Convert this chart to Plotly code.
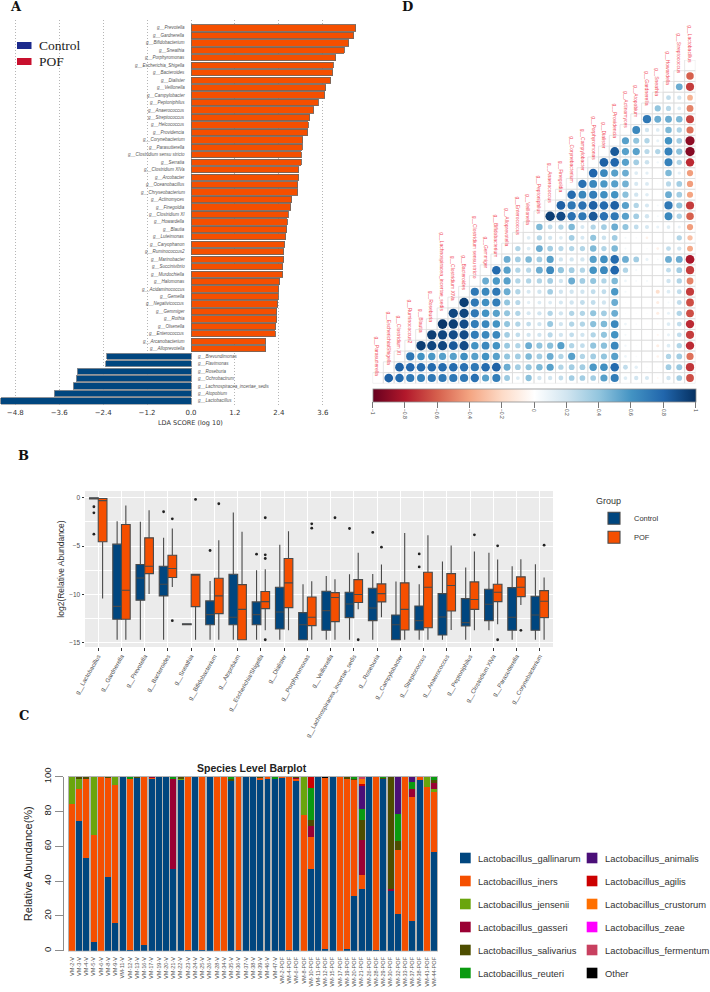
import numpy as np
import plotly.graph_objects as go

W, H = 710, 992
def dx(a, b): return [a / W, b / W]
def dy(top, bottom): return [1 - bottom / H, 1 - top / H]

BLUE = "#00467f"
ORANGE = "#f54f00"

# ---------- Panel A ----------
lda_pof_names = ["g__Prevotella","g__Gardnerella","g__Bifidobacterium","g__Sneathia","g__Porphyromonas",
    "g__Escherichia_Shigella","g__Bacteroides","g__Dialister","g__Veillonella","g__Campylobacter",
    "g__Peptoniphilus","g__Anaerococcus","g__Streptococcus","g__Helcococcus","g__Providencia",
    "g__Corynebacterium","g__Parasutterella","g__Clostridium sensu stricto","g__Serratia","g__Clostridium XlVa",
    "g__Arcobacter","g__Oceanobacillus","g__Chryseobacterium","g__Actinomyces","g__Finegoldia",
    "g__Clostridium XI","g__Howardella","g__Blautia","g__Luteimonas","g__Caryophanon",
    "g__Ruminococcus2","g__Marinobacter","g__Succinivibrio","g__Murdochiella","g__Halomonas",
    "g__Acidaminococcus","g__Gemella","g__Negativicoccus","g__Gemmiger","g__Rothia",
    "g__Olsenella","g__Enterococcus","g__Arcanobacterium","g__Alloprevotella"]
lda_pof_values = [4.50,4.45,4.31,4.19,3.95,3.88,3.87,3.82,3.68,3.66,3.47,3.35,3.24,3.21,3.19,3.05,3.04,3.01,3.01,
    2.95,2.94,2.91,2.91,2.75,2.73,2.66,2.63,2.62,2.59,2.56,2.53,2.53,2.51,2.50,2.42,2.40,2.39,2.37,2.34,2.34,
    2.32,2.30,2.04,2.04]
lda_ctrl_names = ["g__Brevundimonas","g__Flavimonas","g__Roseburia","g__Ochrobactrum",
    "g__Lachnospiracea_incertae_sedis","g__Atopobium","g__Lactobacillus"]
lda_ctrl_values = [-2.30,-2.33,-3.11,-3.14,-3.22,-3.74,-5.20]
lda_ticks = [-4.8,-3.6,-2.4,-1.2,0,1.2,2.4,3.6]

# ---------- Panel B ----------
box_genera = ["g__Lactobacillus","g__Gardnerella","g__Prevotella","g__Bacteroides","g__Sneathia","g__Bifidobacterium",
    "g__Atopobium","g__Escherichia/Shigella","g__Dialister","g__Porphyromonas","g__Veillonella",
    "g__Lachnospiracea_incertae_sedis","g__Roseburia","g__Campylobacter","g__Streptococcus","g__Anaerococcus",
    "g__Peptoniphilus","g__Clostridium XlVa","g__Parasutterella","g__Corynebacterium"]
ctrl_q1 = [-0.12,-12.58,-10.6,-10.16,-13.15,-13.14,-13.14,-13.14,-13.58,-14.7,-13.72,-12.41,-12.72,-14.7,-13.69,-14.21,-13.27,-12.72,-13.72,-13.72]
ctrl_med = [-0.05,-11.24,-8.3,-8.95,-13.1,-12.1,-12.37,-12.1,-11.82,-13.14,-11.68,-11.0,-11.41,-13.14,-12.72,-12.34,-12.93,-11.03,-12.37,-12.13]
ctrl_q3 = [0.0,-4.8,-6.91,-7.09,-13.05,-10.68,-7.92,-10.78,-9.26,-11.89,-9.68,-9.78,-9.37,-12.13,-11.2,-9.92,-10.44,-9.47,-9.3,-10.2]
ctrl_lo = [-0.12,-14.7,-14.7,-14.7,-13.15,-14.7,-14.7,-14.7,-14.7,-14.7,-14.7,-14.7,-14.7,-14.7,-14.7,-14.7,-14.7,-13.72,-14.7,-14.7]
ctrl_hi = [0.0,-2.42,-2.49,-4.15,-13.05,-8.61,-1.52,-7.5,-4.87,-8.95,-8.09,-7.92,-7.88,-8.68,-8.95,-6.6,-7.22,-5.7,-7.09,-6.88]
ctrl_out = [[-0.93,-1.56,-3.77],[],[],[-1.45],[],[-5.46],[],[-5.84],[],[],[],[-3.18],[-3.59],[],[-5.81,-7.16],[],[],[],[],[]]
pof_q1 = [-4.56,-12.58,-7.85,-8.26,-11.27,-12.0,-14.7,-11.48,-11.37,-13.24,-12.82,-10.85,-10.78,-13.69,-13.45,-11.72,-11.55,-10.75,-10.23,-12.41]
pof_med = [-0.3,-9.58,-7.09,-7.33,-8.02,-10.16,-11.55,-10.75,-8.81,-12.37,-10.33,-10.02,-9.92,-11.55,-9.26,-9.09,-10.54,-9.78,-9.26,-10.72]
pof_q3 = [-0.07,-2.77,-4.15,-5.95,-7.92,-8.33,-8.99,-9.71,-6.29,-10.27,-9.82,-8.47,-8.92,-8.81,-7.71,-7.85,-8.71,-8.95,-8.19,-9.61]
pof_lo = [-10.44,-14.7,-9.96,-9.23,-14.7,-14.7,-14.7,-13.72,-13.72,-14.7,-14.7,-11.55,-12.37,-14.7,-14.7,-13.69,-13.72,-13.1,-11.1,-14.7]
pof_hi = [-0.07,-0.8,-1.28,-3.18,-7.92,-4.39,-3.53,-7.4,-3.46,-8.64,-8.43,-5.7,-6.91,-3.66,-3.87,-4.94,-5.57,-6.39,-6.36,-8.26]
pof_out = [[],[],[],[-2.18,-12.72],[-0.17],[-0.62],[],[-2.07,-5.91,-6.29,-14.7],[],[-2.7,-3.15],[-2.07],[-14.7],[-5.12],[],[],[],[-3.84],[-4.98,-14.7],[-13.72],[-4.91]]

# ---------- Panel C ----------
samples = ["VM-2-V","VM-3-V","VM-4-V","VM-5-V","VM-6-V","VM-8-V","VM-9-V","VM-11-V","VM-12-V","VM-13-V","VM-16-V",
    "VM-17-V","VM-19-V","VM-20-V","VM-21-V","VM-22-V","VM-23-V","VM-24-V","VM-25-V","VM-26-V","VM-28-V","VM-34-V",
    "VM-35-V","VM-36-V","VM-37-V","VM-38-V","VM-39-V","VM-46-V","VM-47-V",
    "VM-2-POF","VM-4-POF","VM-6-POF","VM-8-POF","VM-10-POF","VM-11-POF","VM-12-POF","VM-15-POF","VM-17-POF",
    "VM-19-POF","VM-20-POF","VM-21-POF","VM-26-POF","VM-28-POF","VM-29-POF","VM-30-POF","VM-32-POF","VM-33-POF",
    "VM-37-POF","VM-38-POF","VM-41-POF","VM-44-POF"]
gallinarum = [0,74.5,53.5,5,0,42.5,16,100,0.3,99.5,3,99,100,100,47,98.5,0.3,100,0.3,100,0,0,98,0.3,100,
    100,98.5,99,98.5,
    99.5,0.3,98,0,46.7,100,1,100,0,1,31.4,35.2,100,0.3,99,34.5,21,0,16.8,98,0,57]
iners = [84.5,18.5,45.5,61.7,100,57,79,0,98.2,0,97,0.5,0,0,0,0,99.7,0,99.7,0,100,100,0,99.7,0,
    0,1,1,0,
    0.5,99.7,1,78,18.8,0,98.5,0,100,98,67.3,8.1,0,99.7,0,0,36.8,100,71.7,2,93.9,34.3]
jensenii = [15.5,6,0.3,33.3,0,0,5,0,0,0,0,0,0,0,0,0.5,0,0,0,0,0,0,0,0,0,0,0,0,0,
    0,0,0,22,0,0,0,0,0,0,0,0,0,0,0,0,0,0,0,0,6.1,1.7]
gasseri = [0,0,0,0,0,0,0,0,0,0,0,0.5,0,0,51.5,0,0,0,0,0,0,0,0,0,0,0,0,0,0,
    0,0,0.5,0,6.3,0,0,0,0,0,0,20.1,0,0,0,1,0,0,4.4,0,0,4]
salivarius = [0,0.5,0.7,0,0,0.5,0,0,0,0.5,0,0,0,0,0,1,0,0,0,0,0,0,1,0,0,0,0.5,0,0,
    0,0,0.5,0,3.3,0,0,0,0,1,0.5,11.5,0,0,0.5,64.5,5.3,0,0,0,0,0.9]
reuteri = [0,0,0,0,0,0,0,0,1.5,0,0,0,0,0,1.5,0,0,0,0,0,0,0,1,0,0,0,0,0,1.5,
    0,0,0,0,18.6,0,0,0,0,0,0.8,6.5,0,0,0.5,0,15.5,0,4.2,0,0,2]
animalis = [0,0,0,0,0,0,0,0,0,0,0,0,0,0,0,0,0,0,0,0,0,0,0,0,0,0,0,0,0,
    0,0,0,0,0,0,0,0,0,0,0,13.8,0,0,0,0,21.3,0,2.9,0,0,0]
agilis = [0,0,0,0,0,0,0,0,0,0,0,0,0,0,0,0,0,0,0,0,0,0,0,0,0,0,0,0,0,
    0,0,0,0,6.3,0,0,0,0,0,0,0.5,0,0,0,0,0,0,0,0,0,0]
crustorum = [0,0,0,0,0,0,0,0,0,0,0,0,0,0,0,0,0,0,0,0,0,0,0,0,0,0,0,0,0,
    0,0,0,0,0,0,0,0,0,0,0,3.3,0,0,0,0,0,0,0,0,0,0]
zeae = [0,0,0,0,0,0,0,0,0,0,0,0,0,0,0,0,0,0,0,0,0,0,0,0,0,0,0,0,0,
    0,0,0,0,0,0,0,0,0,0,0,0,0,0,0,0,0,0,0,0,0,0]
fermentum = [0,0,0,0,0,0,0,0,0,0,0,0,0,0,0,0,0,0,0,0,0,0,0,0,0,0,0,0,0,
    0,0,0,0,0,0,0,0,0,0,0,1,0,0,0,0,0,0,0,0,0,0]
other = [0,0,0,0,0,0,0,0,0,0,0,0,0,0,0,0,0,0,0,0,0,0,0,0,0,0,0,0,0,
    0,0,0,0,0,0,0.5,0,0,0,0,0,0,0,0,0,0,0,0,0,0,0]
species_names = ["Lactobacillus_gallinarum","Lactobacillus_iners","Lactobacillus_jensenii","Lactobacillus_gasseri",
    "Lactobacillus_salivarius","Lactobacillus_reuteri","Lactobacillus_animalis","Lactobacillus_agilis",
    "Lactobacillus_crustorum","Lactobacillus_zeae","Lactobacillus_fermentum","Other"]
species_values = [gallinarum,iners,jensenii,gasseri,salivarius,reuteri,animalis,agilis,crustorum,zeae,fermentum,other]
species_colors = [BLUE,ORANGE,"#6aa50c","#9a0033","#4d4d00","#0a9a10","#4b0f78","#cc0000","#ff6f00","#ff00ff","#c84060","#000000"]
for s in species_values:
    assert len(s) == len(samples)

# ---------- Panel D ----------
corr_genera = ["g__Lactobacillus","g__Streptococcus","g__Howardella","g__Sneathia","g__Gardnerella","g__Atopobium",
    "g__Actinomyces","g__Providencia","g__Dialister","g__Porphyromonas","g__Campylobacter","g__Corynebacterium",
    "g__Finegoldia","g__Anaerococcus","g__Peptoniphilus","g__Veillonella","g__Enterococcus","g__Alloprevotella",
    "g__Bifidobacterium","g__Gemmiger","g__Clostridium sensu stricto","g__Bacteroides","g__Clostridium XlVa",
    "g__Lachnospiracea_incertae_sedis","g__Roseburia","g__Blautia","g__Ruminococcus2","g__Clostridium XI",
    "g__Escherichia/Shigella","g__Parasutterella"]
corr_rows = [
    [],
    [-.6],
    [.5,-.7],
    [.25,.2,-.35],
    [.4,.28,.15,-.5],
    [.72,.5,.5,.45,-.68],
    [.65,.2,.15,.45,.3,-.55],
    [.55,.4,.3,.1,.6,.35,-.9],
    [.85,.55,.55,.28,.3,.68,.42,-.92],
    [.82,.8,.55,.35,.22,.06,.68,.3,-.75],
    [.8,.65,.55,.5,.15,.12,0,.45,.12,-.42],
    [.75,.65,.58,.55,.48,.18,.16,.02,.28,.35,-.42],
    [.78,.65,.7,.62,.6,.42,.2,.14,0,.5,.35,-.4],
    [.82,.72,.75,.82,.78,.82,.55,.3,.18,.05,.72,.4,-.7],
    [.95,.9,.75,.72,.85,.75,.72,.55,.35,.2,.05,.65,.3,-.6],
    [.45,.25,.3,.45,.18,.3,.35,.5,.4,.25,.18,.1,.15,.1,-.42],
    [.15,.3,.2,.15,.35,.18,.4,.22,.35,.05,.03,-.08,0,0,.3,-.3],
    [.3,.15,.5,.35,.28,.3,.3,.45,.3,.45,.05,.01,.03,-.08,.25,.2,-.38],
    [.5,.35,.45,.35,.55,.2,.2,.2,.55,.62,.78,.5,.35,.1,.04,.5,.5,-.82],
    [.78,.55,.3,.28,.5,.65,.4,.35,.3,.6,.65,.8,.3,.05,.02,.01,.25,.35,-.7],
    [.5,.58,.55,.3,.3,.3,.35,.2,.5,.35,.4,.3,.45,.08,.04,.05,.01,.2,.3,-.5],
    [.72,.65,.72,.5,.3,.18,.2,.35,.2,.2,.2,.25,.25,.58,.05,.01,.01,-.18,.15,.25,-.7],
    [.95,.72,.62,.7,.4,.28,.12,.15,.15,.18,.2,.25,.25,.2,.5,.02,.01,.01,-.1,.05,.25,-.65],
    [.92,.92,.72,.6,.55,.4,.3,.18,.2,.3,.2,.3,.3,.4,.35,.5,.02,.02,.02,-.1,.1,.3,-.65],
    [.98,.95,.9,.7,.65,.6,.4,.3,.25,.2,.38,.2,.3,.3,.42,.45,.65,.08,.03,-.02,-.03,.15,.25,-.75],
    [.95,.92,.9,.9,.7,.65,.65,.35,.25,.2,.2,.28,.2,.25,.2,.3,.4,.6,.05,.02,.02,-.05,.1,.25,-.7],
    [.95,.92,.92,.85,.9,.6,.65,.6,.38,.3,.5,.4,.42,.55,.3,.25,.4,.42,.65,.06,.02,.01,-.1,.15,.3,-.75],
    [.72,.6,.58,.55,.55,.62,.55,.6,.55,.4,.35,.45,.35,.5,.3,.55,.3,.35,.4,.55,.08,.03,0,-.07,.3,.35,-.55],
    [.82,.8,.78,.78,.78,.78,.75,.72,.78,.82,.5,.35,.4,.45,.55,.3,.35,.35,.58,.62,.78,.25,.12,.02,-.02,.35,.38,-.72],
    [.82,.78,.72,.68,.72,.72,.72,.72,.75,.55,.7,.38,.15,.42,.2,.2,.25,.35,.35,.35,.55,.7,.15,.2,.18,-.04,.2,.35,-.65],
]
corr_ticks = [-1,-.8,-.6,-.4,-.2,0,.2,.4,.6,.8,1]
rdbu = ["#67001F","#B2182B","#D6604D","#F4A582","#FDDBC7","#FFFFFF","#D1E5F0","#92C5DE","#4393C3","#2166AC","#053061"]

for i, r in enumerate(corr_rows):
    assert len(r) == i, (i, len(r))

fig = go.Figure()
annots = []
shapes = []

def paper_text(text, px, py, font, xanchor="center", **kw):
    annots.append(dict(x=px/W, y=1-py/H, xref="paper", yref="paper", text=text, showarrow=False,
                       xanchor=xanchor, yanchor="middle", font=font, **kw))

# --- A traces
lda_order = lda_pof_names + lda_ctrl_names
fig.add_trace(go.Bar(y=lda_pof_names, x=lda_pof_values, orientation="h", width=0.84, showlegend=False,
    marker=dict(color=ORANGE, line=dict(color="#77665c", width=0.9)), xaxis="x", yaxis="y"))
fig.add_trace(go.Bar(y=lda_ctrl_names, x=lda_ctrl_values, orientation="h", width=0.84, showlegend=False,
    marker=dict(color=BLUE, line=dict(color="#858a90", width=0.9)), xaxis="x", yaxis="y"))
lab_font = dict(family="Liberation Sans", size=4.5, color="#555555")
for n in lda_pof_names:
    annots.append(dict(x=0, y=n, xref="x", yref="y", text="<i>%s</i>" % n, showarrow=False,
                       xanchor="right", yanchor="middle", xshift=-4, font=lab_font))
for n in lda_ctrl_names:
    annots.append(dict(x=0, y=n, xref="x", yref="y", text="<i>%s</i>" % n, showarrow=False,
                       xanchor="left", yanchor="middle", xshift=5, font=lab_font))
paper_text("LDA SCORE (log 10)", 191, 423, dict(family="DejaVu Sans", size=6.5, color="#333333"))
shapes += [
    dict(type="rect", xref="paper", yref="paper", x0=17/W, x1=31.5/W, y0=1-49/H, y1=1-42/H, fillcolor="#1c2a8c", line=dict(width=0)),
    dict(type="rect", xref="paper", yref="paper", x0=17/W, x1=31.5/W, y0=1-65/H, y1=1-58/H, fillcolor="#c8102e", line=dict(width=0)),
]
for t, yy in (("Control", 45), ("POF", 61)):
    paper_text(t, 37, yy, dict(family="Liberation Serif", size=13.5, color="#222222"), xanchor="left")

# --- B traces
box_line = dict(color="#4a4a4a", width=1.1)
box_pos = list(range(len(box_genera)))
BOX_W = 0.375
ctrl_x = [p - BOX_W / 2 for p in box_pos]
pof_x = [p + BOX_W / 2 for p in box_pos]
fig.add_trace(go.Box(name="Control", x=ctrl_x, q1=ctrl_q1, median=ctrl_med, q3=ctrl_q3, lowerfence=ctrl_lo, upperfence=ctrl_hi,
    width=BOX_W, boxpoints=False, whiskerwidth=0, fillcolor=BLUE, line=box_line, xaxis="x2", yaxis="y2"))
fig.add_trace(go.Box(name="POF", x=pof_x, q1=pof_q1, median=pof_med, q3=pof_q3, lowerfence=pof_lo, upperfence=pof_hi,
    width=BOX_W, boxpoints=False, whiskerwidth=0, fillcolor=ORANGE, line=box_line, xaxis="x2", yaxis="y2"))
out_x, out_y = [], []
for xs, outs in ((ctrl_x, ctrl_out), (pof_x, pof_out)):
    for xv, os_ in zip(xs, outs):
        for o in os_:
            out_x.append(xv); out_y.append(o)
fig.add_trace(go.Scatter(x=out_x, y=out_y, mode="markers", showlegend=False,
    marker=dict(color="#222222", size=2.8), xaxis="x2", yaxis="y2"))
shapes.append(dict(type="rect", xref="x2 domain", yref="y2 domain", x0=0, x1=1, y0=0, y1=1,
                   fillcolor="#ebebeb", line=dict(width=0), layer="below"))

# --- C traces
shapes.append(dict(type="rect", xref="paper", yref="paper", x0=68.0/W, x1=438.0/W, y0=1-951.6/H, y1=1-775.9/H,
                   fillcolor="#b4b4b4", line=dict(width=0), layer="below"))
for nm, vals, col in zip(species_names, species_values, species_colors):
    fig.add_trace(go.Bar(name=nm, x=samples, y=vals, marker=dict(color=col, line=dict(width=0)),
                         showlegend=False, xaxis="x3", yaxis="y3"))
paper_text("<b>Species Level Barplot</b>", 252, 768, dict(family="Liberation Sans", size=10.5, color="#222222"))
rows_y = [858, 881, 904, 927, 950, 973]
for i, (nm, col) in enumerate(zip(species_names, species_colors)):
    col_i = i // 6
    yy = rows_y[i % 6]
    x0 = 460 if col_i == 0 else 586.7
    tx = 476 if col_i == 0 else 602.7
    shapes.append(dict(type="rect", xref="paper", yref="paper", x0=x0/W, x1=(x0+10.7)/W, y0=1-(yy+5.3)/H, y1=1-(yy-5.3)/H,
                       fillcolor=col, line=dict(width=0)))
    paper_text(nm, tx, yy, dict(family="Liberation Sans", size=9.4, color="#333333"), xanchor="left")

# --- D traces
cell_x, cell_y, dot_x, dot_y, dot_v = [], [], [], [], []
for i, row in enumerate(corr_rows):
    cols_lr = corr_genera[:i][::-1]
    cell_x.append(corr_genera[i]); cell_y.append(corr_genera[i])
    for c, v in zip(cols_lr, row):
        cell_x.append(c); cell_y.append(corr_genera[i])
        if v != 0:
            dot_x.append(c); dot_y.append(corr_genera[i]); dot_v.append(v)
cell_px = 10.76
fig.add_trace(go.Scatter(x=cell_x, y=cell_y, mode="markers", showlegend=False, hoverinfo="skip",
    marker=dict(symbol="square-open", size=cell_px, color="#dcdcdc", line=dict(width=0.7, color="#dcdcdc")),
    xaxis="x4", yaxis="y4"))
fig.add_trace(go.Scatter(x=dot_x, y=dot_y, mode="markers", showlegend=False,
    marker=dict(size=list(0.9 * cell_px * np.sqrt(np.abs(dot_v))), color=dot_v, coloraxis="coloraxis",
                opacity=1, line=dict(width=0)),
    xaxis="x4", yaxis="y4"))
for g in corr_genera:
    annots.append(dict(x=g, y=g, xref="x4", yref="y4", text=g, showarrow=False, textangle=90,
                       yanchor="bottom", xanchor="center",
                       font=dict(family="Liberation Sans", size=5, color="#f2505e")))

# panel letters
for t, px, py in (("A", 16, 6), ("B", 23, 455), ("C", 24, 715), ("D", 407, 6)):
    paper_text("<b>%s</b>" % t, px, py, dict(family="DejaVu Serif", size=13, color="#111111"))

fig.update_layout(
    width=W, height=H, margin=dict(l=0, r=0, t=0, b=0, autoexpand=False), autosize=False,
    paper_bgcolor="white", plot_bgcolor="rgba(0,0,0,0)",
    font=dict(family="Liberation Sans", color="#333333"),
    barmode="stack", bargap=0.18,
    boxmode="overlay",
    shapes=shapes, annotations=annots,
    # A
    xaxis=dict(domain=dx(0, 360), range=[(0-191)/36.6, (360-191)/36.6], anchor="y", tickvals=lda_ticks,
               tickformat=".1f", ticks="", showgrid=True, gridcolor="#b5b5b5", griddash="1px,2px", gridwidth=0.8,
               zeroline=False, showline=False, tickfont=dict(family="DejaVu Sans", size=7, color="#333333"), ticklabelstandoff=2),
    yaxis=dict(domain=dy(20, 404.7), type="category", categoryorder="array", categoryarray=lda_order,
               range=[50.5, -1.07], showticklabels=False, ticks="", showgrid=False, zeroline=False, anchor="x"),
    # B
    xaxis2=dict(domain=dx(85, 553), anchor="y2", range=[-0.57, 19.57], tickmode="array", tickvals=box_pos, ticktext=box_genera,
                tickangle=-60, ticks="outside", ticklen=2.5, tickcolor="#333333", tickwidth=0.7,
                showgrid=True, gridcolor="white", gridwidth=0.9, zeroline=False,
                tickfont=dict(size=6, color="#4d4d4d")),
    yaxis2=dict(domain=dy(491, 647), anchor="x2", range=[-15.45, 0.7], tickvals=[0,-5,-10,-15],
                ticks="outside", ticklen=2.5, tickcolor="#333333", tickwidth=0.7, showgrid=True, gridcolor="white",
                gridwidth=0.9, zeroline=False, tickfont=dict(size=6.5, color="#4d4d4d"),
                minor=dict(tickvals=[-2.5,-7.5,-12.5], showgrid=True, gridcolor="white", gridwidth=0.45, ticks=""),
                title=dict(text="log2(Relative Abundance)", font=dict(size=8.5, color="#333333"), standoff=3)),
    # C
    xaxis3=dict(domain=dx(68.3, 437.7), anchor="y3", type="category", categoryorder="array", categoryarray=samples,
                range=[-0.5, 50.5], tickangle=-90, ticks="outside", ticklen=3, tickcolor="rgba(0,0,0,0)",
                showgrid=False, zeroline=False, showline=False, tickfont=dict(size=5.6, color="#555555"), tickmode="array",
                tickvals=samples, ticktext=samples),
    yaxis3=dict(domain=dy(776.7, 950.7), anchor="free", position=63/W, range=[0, 100], tickvals=[0,20,40,60,80,100],
                tickangle=-90, ticks="outside", ticklen=8, tickcolor="#8c8c8c", showgrid=False, zeroline=False,
                showline=True, linecolor="#8c8c8c", linewidth=0.8,
                tickfont=dict(size=9.5, color="#222222"),
                title=dict(text="Relative Abundance(%)", font=dict(size=11, color="#222222"), standoff=6)),
    # D
    xaxis4=dict(domain=dx(372.6, 695.4), anchor="y4", type="category", categoryorder="array",
                categoryarray=corr_genera[::-1], range=[-0.5, 29.5], showticklabels=False, ticks="",
                showgrid=False, zeroline=False),
    yaxis4=dict(domain=dy(59.9, 383.4), anchor="x4", type="category", categoryorder="array",
                categoryarray=corr_genera, range=[29.5, -0.5], showticklabels=False, ticks="",
                showgrid=False, zeroline=False),
    coloraxis=dict(colorscale=[[i/10, c] for i, c in enumerate(rdbu)], cmin=-1, cmax=1,
                   colorbar=dict(orientation="h", x=534/W, xanchor="center", y=1-389/H, yanchor="top",
                                 lenmode="pixels", len=323, thickness=13, xpad=0, ypad=0,
                                 tickvals=corr_ticks, ticktext=[("%g" % t).replace("-", "\u2212") for t in corr_ticks],
                                 tickangle=90, ticks="outside", ticklen=6, tickwidth=0.6, tickcolor="#777777",
                                 tickfont=dict(size=5, color="#444444"), outlinecolor="#8c8c8c", outlinewidth=0.8)),
    legend=dict(x=594/W, y=1-492/H, xanchor="left", yanchor="top", traceorder="normal",
                title=dict(text="Group", font=dict(size=9, color="#333333")),
                font=dict(size=7.5, color="#333333"), bgcolor="rgba(0,0,0,0)", itemwidth=30),
    showlegend=True,
)
fig.write_html("out.html", config=dict(displayModeBar=False), post_script="document.body.style.margin='0';")
